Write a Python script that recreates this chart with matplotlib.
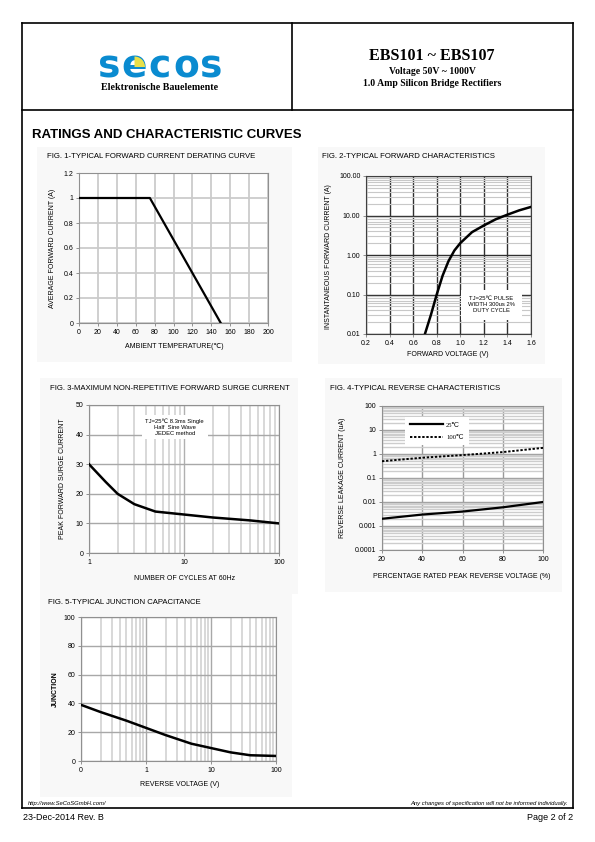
import matplotlib
matplotlib.use("Agg")
import matplotlib.pyplot as plt
from matplotlib.patches import Rectangle, Wedge
from matplotlib.ticker import FixedLocator, NullFormatter
import numpy as np

W, H = 595, 842
plt.rcParams['font.family'] = ['Liberation Sans', 'DejaVu Sans']

# ---------------- data ----------------
f1_temp = [0, 75, 150]
f1_curr = [1.0, 1.0, 0.0]
f1_xticks = [0, 20, 40, 60, 80, 100, 120, 140, 160, 180, 200]
f1_yticks = [0, 0.2, 0.4, 0.6, 0.8, 1.0, 1.2]
f1_ylabels = ["0", "0.2", "0.4", "0.6", "0.8", "1", "1.2"]

f2_volt = [0.70, 0.75, 0.80, 0.85, 0.90, 0.95, 1.00, 1.10, 1.20, 1.30, 1.40, 1.50, 1.60]
f2_curr = [0.01, 0.03, 0.1, 0.3, 0.7, 1.3, 2.0, 3.8, 5.6, 8.0, 10.5, 13.5, 16.5]
f2_xticks = [0.2, 0.4, 0.6, 0.8, 1.0, 1.2, 1.4, 1.6]
f2_yticks = [0.01, 0.1, 1, 10, 100]
f2_ylabels = ["0.01", "0.10", "1.00", "10.00", "100.00"]

f3_cycles = [1, 1.5, 2, 3, 5, 10, 20, 50, 100]
f3_curr = [30, 24, 20, 16.5, 14, 13, 12, 11, 10]
f3_yticks = [0, 10, 20, 30, 40, 50]

f4_pct = [20, 40, 60, 80, 100]
f4_i25 = [0.002, 0.003, 0.004, 0.006, 0.01]
f4_i100 = [0.5, 0.7, 0.9, 1.2, 1.8]
f4_yticks = [0.0001, 0.001, 0.01, 0.1, 1, 10, 100]
f4_ylabels = ["0.0001", "0.001", "0.01", "0.1", "1", "10", "100"]

f5_volt = [0.1, 0.2, 0.5, 1, 2, 5, 10, 20, 40, 100]
f5_cap = [39, 34, 28, 23, 18, 12, 9, 6, 4, 3.5]
f5_xticks = [0.1, 1, 10, 100]
f5_xlabels = ["0", "1", "10", "100"]
f5_yticks = [0, 20, 40, 60, 80, 100]

fig = plt.figure(figsize=(W / 100, H / 100), dpi=100)


def fx(x):
    return x / W


def fy(y):
    return 1 - y / H


def rect(x0, y0, x1, y1):
    return [x0 / W, 1 - y1 / H, (x1 - x0) / W, (y1 - y0) / H]


def line(x0, y0, x1, y1, lw=1.2, c='black'):
    fig.add_artist(plt.Line2D([fx(x0), fx(x1)], [fy(y0), fy(y1)], lw=lw, color=c))


def panel(x0, y0, x1, y1):
    fig.add_artist(Rectangle((fx(x0), fy(y1)), (x1 - x0) / W, (y1 - y0) / H,
                             transform=fig.transFigure, facecolor='#f8f8f8',
                             edgecolor='none', zorder=0))


# ---------------- frame ----------------
line(22, 23, 573, 23)
line(22, 23, 22, 808)
line(573, 23, 573, 808)
line(22, 808, 573, 808)
line(22, 110, 573, 110)
line(292, 23, 292, 110)

# logo
blue = '#0a8bd0'
for ch, xc in zip("secos", [109, 134, 160, 186, 211]):
    fig.text(fx(xc), fy(68), ch, ha='center', va='center', fontsize=27,
             fontweight='bold', color=blue, family='DejaVu Sans')
fig.add_artist(Wedge((1.345, (H - 67) / 100), 0.105, 0, 90,
                     transform=fig.dpi_scale_trans,
                     facecolor='#e8e04a', edgecolor='none', zorder=5))
fig.text(fx(160), fy(87), "Elektronische Bauelemente", ha='center', va='center',
         fontsize=7.2, fontweight='bold', family='Liberation Serif')

fig.text(fx(432), fy(56), "EBS101 ~ EBS107", ha='center', va='center',
         fontsize=11.5, fontweight='bold', family='Liberation Serif')
fig.text(fx(432), fy(71), "Voltage 50V ~ 1000V", ha='center', va='center',
         fontsize=7, fontweight='bold', family='Liberation Serif')
fig.text(fx(432), fy(83), "1.0 Amp Silicon Bridge Rectifiers", ha='center', va='center',
         fontsize=7, fontweight='bold', family='Liberation Serif')

fig.text(fx(32), fy(135), "RATINGS AND CHARACTERISTIC CURVES", ha='left', va='center',
         fontsize=9.5, fontweight='bold')

# footer
fig.text(fx(28), fy(803), "http://www.SeCoSGmbH.com/", ha='left', va='center',
         fontsize=4.2, style='italic')
fig.text(fx(568), fy(803), "Any changes of specification will not be informed individually.",
         ha='right', va='center', fontsize=4.2, style='italic')
fig.text(fx(23), fy(817), "23-Dec-2014 Rev. B", ha='left', va='center', fontsize=6.5)
fig.text(fx(573), fy(817), "Page 2 of 2", ha='right', va='center', fontsize=6.5)

TS = 5.0
LS = 5.0
TT = 5.6

panel(37, 147, 292, 362)
panel(318, 147, 545, 364)
panel(40, 378, 298, 594)
panel(325, 378, 562, 592)
panel(40, 594, 292, 797)


def style_ax(ax, spine='#909090'):
    for s in ax.spines.values():
        s.set_color(spine)
        s.set_linewidth(0.8)
    ax.tick_params(labelsize=TS, length=2, width=0.6, color='#808080', pad=2)
    ax.set_axisbelow(True)


# ---------------- Fig 1 ----------------
fig.text(fx(47), fy(157), "FIG. 1-TYPICAL FORWARD CURRENT DERATING CURVE", fontsize=TT,
         ha='left', va='center')
ax1 = fig.add_axes(rect(79, 173, 268, 323))
ax1.plot(f1_temp, f1_curr, color='black', lw=1.6, zorder=3)
ax1.set_xlim(0, 200)
ax1.set_ylim(0, 1.2)
ax1.set_xticks(f1_xticks)
ax1.set_yticks(f1_yticks)
ax1.set_yticklabels(f1_ylabels)
ax1.grid(True, which='major', color='#cbcbcb', lw=1.3)
style_ax(ax1)
fig.text(fx(174), fy(347), "AMBIENT TEMPERATURE(℃)", fontsize=LS, ha='center', va='center')
fig.text(fx(52), fy(248), "AVERAGE FORWARD CURRENT (A)", fontsize=LS, ha='center',
         va='center', rotation=90)

# ---------------- Fig 2 ----------------
fig.text(fx(322), fy(157), "FIG. 2-TYPICAL FORWARD CHARACTERISTICS", fontsize=TT,
         ha='left', va='center')
ax2 = fig.add_axes(rect(366, 176, 531, 334))
ax2.set_yscale('log')
ax2.plot(f2_volt, f2_curr, color='black', lw=1.8, zorder=3)
ax2.set_xlim(0.2, 1.6)
ax2.set_ylim(0.01, 100)
ax2.set_xticks(f2_xticks)
ax2.set_xticklabels([f"{v:.1f}" for v in f2_xticks])
ax2.set_yticks(f2_yticks)
ax2.set_yticklabels(f2_ylabels)
ax2.yaxis.set_minor_formatter(NullFormatter())
ax2.grid(True, which='minor', axis='y', color='#c8c8c8', lw=0.8)
ax2.grid(True, which='major', axis='y', color='#303030', lw=1.0)
ax2.grid(True, which='major', axis='x', color='#303030', lw=1.0)
ax2.tick_params(which='minor', length=0)
style_ax(ax2, '#404040')
ax2.text(1.265, 0.055, "TJ=25℃ PULSE\nWIDTH 300us 2%\nDUTY CYCLE", fontsize=4.2,
         ha='center', va='center', linespacing=1.2, zorder=4,
         bbox=dict(facecolor='white', edgecolor='none', pad=5))
fig.text(fx(448), fy(354), "FORWARD VOLTAGE (V)", fontsize=LS, ha='center', va='center')
fig.text(fx(329), fy(257), "INSTANTANEOUS FORWARD CURRENT (A)", fontsize=LS, ha='center',
         va='center', rotation=90)

# ---------------- Fig 3 ----------------
fig.text(fx(50), fy(388), "FIG. 3-MAXIMUM NON-REPETITIVE FORWARD SURGE CURRENT", fontsize=TT,
         ha='left', va='center')
ax3 = fig.add_axes(rect(89, 405, 279, 553))
ax3.set_xscale('log')
ax3.plot(f3_cycles, f3_curr, color='black', lw=1.8, zorder=3)
ax3.set_xlim(1, 100)
ax3.set_ylim(0, 50)
ax3.set_yticks(f3_yticks)
ax3.set_xticks([1, 10, 100])
ax3.set_xticklabels(["1", "10", "100"])
ax3.xaxis.set_minor_formatter(NullFormatter())
ax3.grid(True, which='minor', axis='x', color='#d6d6d6', lw=1.3)
ax3.grid(True, which='major', axis='x', color='#b0b0b0', lw=1.0)
ax3.grid(True, which='major', axis='y', color='#a8a8a8', lw=1.0)
ax3.tick_params(which='minor', length=0)
style_ax(ax3, '#909090')
ax3.text(8.0, 42.5, "TJ=25℃ 8.3ms Single\nHalf  Sine Wave\nJEDEC method", fontsize=4.2,
         ha='center', va='center', linespacing=1.25, zorder=4,
         bbox=dict(facecolor='white', edgecolor='none', pad=2.5))
fig.text(fx(185), fy(578), "NUMBER OF CYCLES AT 60Hz", fontsize=LS, ha='center', va='center')
fig.text(fx(62), fy(479), "PEAK FORWARD SURGE CURRENT", fontsize=LS, ha='center',
         va='center', rotation=90)

# ---------------- Fig 4 ----------------
fig.text(fx(330), fy(388), "FIG. 4-TYPICAL REVERSE CHARACTERISTICS", fontsize=TT,
         ha='left', va='center')
ax4 = fig.add_axes(rect(382, 406, 543, 550))
ax4.set_yscale('log')
ax4.plot(f4_pct, f4_i25, color='black', lw=1.6, zorder=3, label='25℃')
ax4.plot(f4_pct, f4_i100, color='black', lw=1.4, ls=(0, (1.2, 0.9)), zorder=3, label='100℃')
ax4.set_xlim(20, 100)
ax4.set_ylim(0.0001, 100)
ax4.set_xticks(f4_pct)
ax4.set_yticks(f4_yticks)
ax4.set_yticklabels(f4_ylabels)
ax4.yaxis.set_minor_formatter(NullFormatter())
ax4.grid(True, which='minor', axis='y', color='#cdcdcd', lw=1.0)
ax4.grid(True, which='major', axis='y', color='#9a9a9a', lw=1.0)
ax4.grid(True, which='major', axis='x', color='#9a9a9a', lw=1.0)
ax4.tick_params(which='minor', length=0)
style_ax(ax4, '#909090')
leg = ax4.legend(loc='upper left', bbox_to_anchor=(0.12, 0.95), frameon=True,
                 fancybox=False, edgecolor='none', handlelength=5,
                 borderpad=0.8, labelspacing=1.0, handletextpad=0.4,
                 prop={'family': ['Liberation Serif', 'DejaVu Serif'], 'size': 4.8})
leg.get_frame().set_facecolor('white')
leg.get_frame().set_alpha(1)
fig.text(fx(462), fy(576), "PERCENTAGE RATED PEAK REVERSE VOLTAGE (%)", fontsize=LS,
         ha='center', va='center')
fig.text(fx(342), fy(478), "REVERSE LEAKAGE CURRENT (uA)", fontsize=LS, ha='center',
         va='center', rotation=90)

# ---------------- Fig 5 ----------------
fig.text(fx(48), fy(602), "FIG. 5-TYPICAL JUNCTION CAPACITANCE", fontsize=TT,
         ha='left', va='center')
ax5 = fig.add_axes(rect(81, 617, 276, 761))
ax5.set_xscale('log')
ax5.plot(f5_volt, f5_cap, color='black', lw=1.8, zorder=3)
ax5.set_xlim(0.1, 100)
ax5.set_ylim(0, 100)
ax5.set_yticks(f5_yticks)
ax5.set_xticks(f5_xticks)
ax5.set_xticklabels(f5_xlabels)
ax5.xaxis.set_minor_formatter(NullFormatter())
ax5.grid(True, which='minor', axis='x', color='#d6d6d6', lw=1.3)
ax5.grid(True, which='major', axis='x', color='#a8a8a8', lw=1.0)
ax5.grid(True, which='major', axis='y', color='#a8a8a8', lw=1.0)
ax5.tick_params(which='minor', length=0)
style_ax(ax5, '#909090')
fig.text(fx(180), fy(785), "REVERSE VOLTAGE (V)", fontsize=LS, ha='center', va='center')
fig.text(fx(55), fy(689), "JUNCTION", fontsize=LS, ha='center', va='center', rotation=90,
         fontweight='bold')

fig.savefig("out.png", dpi=100, facecolor='white')
